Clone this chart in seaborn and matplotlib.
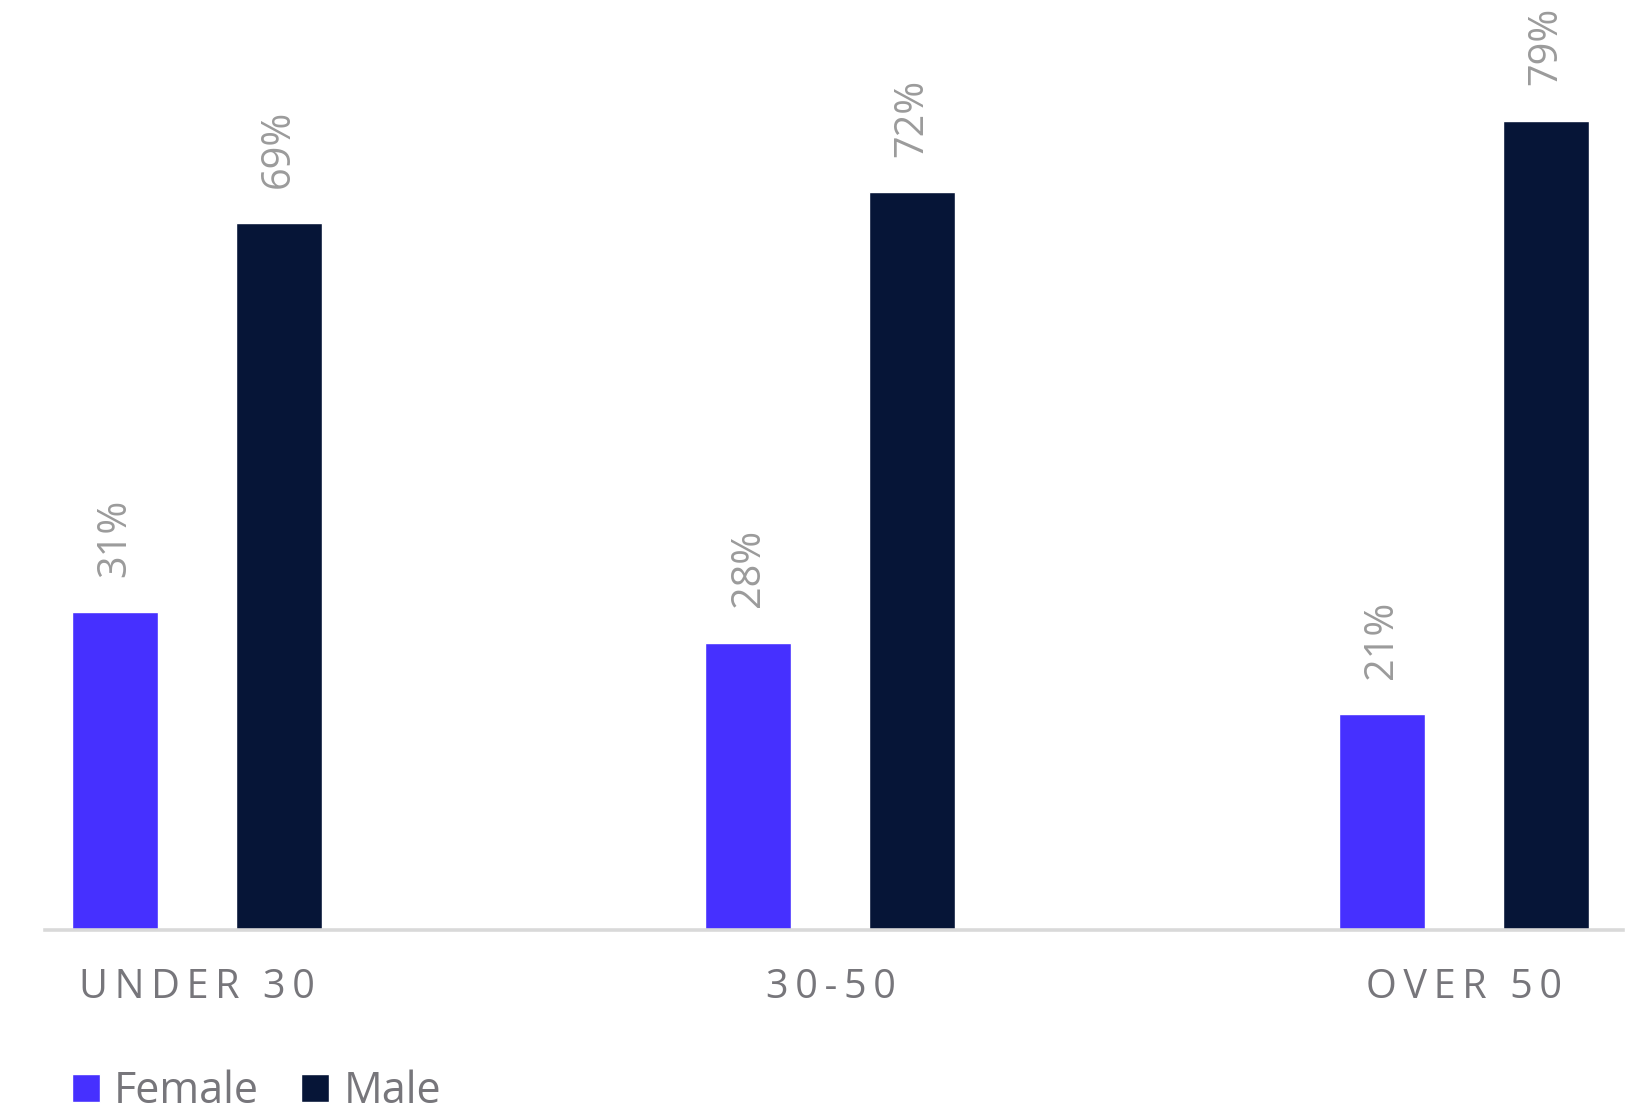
import matplotlib
matplotlib.use("Agg")
import matplotlib.pyplot as plt
import pandas as pd
import seaborn as sns

# Age groups and gender split (percent of each group)
categories = ["UNDER 30", "30-50", "OVER 50"]
series = ["Female", "Male"]
female = [31, 28, 21]
male = [69, 72, 79]
colors = ["#4630FF", "#061537"]

df = pd.DataFrame({
    "Age": categories * 2,
    "Gender": [series[0]] * len(categories) + [series[1]] * len(categories),
    "Share": female + male,
})

sns.set_theme(style="white")
plt.rcParams["font.family"] = ["Open Sans", "DejaVu Sans"]

W, H = 1634, 1113
fig = plt.figure(figsize=(W / 100, H / 100), dpi=100)
base_y = 929.5
ax = fig.add_axes([45 / W, (H - base_y) / H, 1578 / W, base_y / H])

sns.barplot(data=df, x="Age", y="Share", hue="Gender", palette=colors,
            saturation=1, width=0.5177, gap=0.4755, ax=ax, zorder=2)

ax.set_xlim(-0.2399, 2.251)
ax.set_ylim(0, base_y / 10.24)

for side in ["top", "left", "right"]:
    ax.spines[side].set_visible(False)
ax.spines["bottom"].set_color("#D9D9D9")
ax.spines["bottom"].set_linewidth(2.6)
ax.spines["bottom"].set_zorder(3)
ax.set_yticks([])
ax.set_xlabel("")
ax.set_ylabel("")

# spaced-out category labels
spaced = ["\u2009".join(c) for c in categories]
ax.set_xticks(range(len(categories)))
ax.set_xticklabels(spaced, fontsize=28.5, color="#77767B")
ax.tick_params(axis="x", length=0, pad=27)

# rotated value labels above each bar
for cont, vals in zip(ax.containers, [female, male]):
    ax.bar_label(cont, labels=[f"{v}%" for v in vals], padding=25.5, rotation=90,
                 fontsize=28.5, color="#9B9B9B", clip_on=False)

handles, labels = ax.get_legend_handles_labels()
ax.legend(handles, labels, loc="lower left",
          bbox_to_anchor=(72 / W, (H - 1114) / H), bbox_transform=fig.transFigure,
          ncol=2, frameon=False, fontsize=31, handlelength=0.65, handleheight=0.65,
          handletextpad=0.33, columnspacing=0.98, borderpad=0, borderaxespad=0,
          labelcolor="#77767B")

fig.savefig("out.png", dpi=100)
